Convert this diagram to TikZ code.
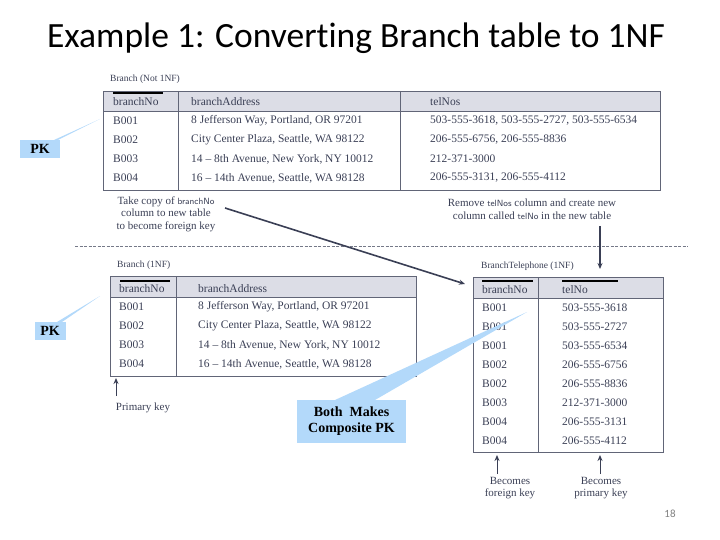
\documentclass[tikz,border=0pt]{standalone}
\usepackage{fontspec}
\setmainfont{Liberation Serif}
\newfontfamily\carl{Carlito}[Ligatures=NoCommon]
\usetikzlibrary{arrows.meta}
\definecolor{hdr}{HTML}{DCDDE6}
\definecolor{ink}{HTML}{3A3F55}
\definecolor{callout}{HTML}{B3D9FA}
\begin{document}
\begin{tikzpicture}[x=1pt,y=-1pt,
  t/.style={anchor=west,font=\fontsize{11.5}{13}\selectfont,text=ink,inner sep=0},
  lab/.style={font=\fontsize{11}{12.5}\selectfont,text=ink,align=center,inner sep=0},
  tbl/.style={draw=ink!80,line width=0.8pt},
  bar/.style={line width=2.5pt,black},
  arr/.style={draw=ink,line width=1pt,-{Stealth[length=6pt,width=5pt]}},
  co/.style={fill=callout,font=\fontsize{14}{16}\selectfont\bfseries,align=center,inner sep=0}]
\useasboundingbox (0,0) rectangle (720,540);
\node[font=\carl\fontsize{35.5}{40}\selectfont] (title) at (356,38) {Example 1: Conver\mbox{t}ing Branch table to 1NF};
% top table
\node[lab,anchor=west,font=\fontsize{9.5}{11}\selectfont] (l1) at (110,79) {Branch (Not 1NF)};
\fill[hdr] (103,91) rectangle (660,111);
\draw[tbl] (103,91) rectangle (660,190);
\draw[tbl] (103,111) -- (660,111) (178,91) -- (178,190) (400,91) -- (400,190);
\draw[bar] (113,93) -- (163,93);
\node[t] (h1) at (113,102) {branchNo};
\node[t] (h2) at (191,102) {branchAddress};
\node[t] (h3) at (430,102) {telNos};
\foreach \y/\a/\b/\c in {121/B001/{8 Jefferson Way, Portland, OR 97201}/{503-555-3618, 503-555-2727, 503-555-6534},
 140/B002/{City Center Plaza, Seattle, WA 98122}/{206-555-6756, 206-555-8836},
 159/B003/{14 -- 8th Avenue, New York, NY 10012}/{212-371-3000},
 178/B004/{16 -- 14th Avenue, Seattle, WA 98128}/{206-555-3131, 206-555-4112}}{
 \node[t] at (113,\y) {\a}; \node[t] at (191,\y) {\b}; \node[t] at (430,\y) {\c};}
\node[lab] (take) at (166,214) {Take copy of {\sffamily\fontsize{9}{10}\selectfont branchNo}\\column to new table\\to become foreign key};
\node[lab] (rem) at (532,209) {Remove {\sffamily\fontsize{9}{10}\selectfont telNos} column and create new\\column called {\sffamily\fontsize{9}{10}\selectfont telNo} in the new table};
\draw[ink!70,dash pattern=on 3pt off 1.5pt,line width=0.5pt] (75,246) -- (688,246);
% PK callouts
\fill[callout] (58,140) -- (100,119) -- (54,140) -- cycle;
\node[co,minimum width=40pt,minimum height=18pt] (pk1) at (40,149) {PK};
\fill[callout] (62,322) -- (100,296) -- (57,322) -- cycle;
\node[co,minimum width=31pt,minimum height=18pt] (pk2) at (50,331) {PK};
% bottom left table
\node[lab,anchor=west,font=\fontsize{9.5}{11}\selectfont] (l2) at (117,265) {Branch (1NF)};
\fill[hdr] (110,276) rectangle (416,297);
\draw[tbl] (110,276) rectangle (416,376);
\draw[tbl] (110,297) -- (416,297) (176,276) -- (176,376);
\draw[bar] (120,281) -- (170,281);
\node[t] at (119,289) {branchNo};
\node[t] at (198,289) {branchAddress};
\foreach \y/\a/\b in {307/B001/{8 Jefferson Way, Portland, OR 97201},326/B002/{City Center Plaza, Seattle, WA 98122},345/B003/{14 -- 8th Avenue, New York, NY 10012},364/B004/{16 -- 14th Avenue, Seattle, WA 98128}}{
 \node[t] at (119,\y) {\a}; \node[t] at (198,\y) {\b};}
\node[lab] (prim) at (143,408) {Primary key};
\coordinate (pa) at (116,378);
\draw[arr] (116,396) -- (pa);
% right table
\node[lab,anchor=west,font=\fontsize{9.5}{11}\selectfont] (l3) at (481,266) {BranchTelephone (1NF)};
\fill[hdr] (473,277) rectangle (663,298);
\draw[tbl] (473,277) rectangle (663,452);
\draw[tbl] (473,298) -- (663,298) (538,277) -- (538,452);
\draw[bar] (482,281) -- (533,281) (562,281) -- (618,281);
\node[t] (rb) at (482,290) {branchNo};
\node[t] at (562,290) {telNo};
\foreach \y/\a/\b in {308/B001/503-555-3618,327/B001/503-555-2727,346/B001/503-555-6534,365/B002/206-555-6756,384/B002/206-555-8836,403/B003/212-371-3000,422/B004/206-555-3131,441/B004/206-555-4112}{
 \node[t] at (482,\y) {\a}; \node[t] at (562,\y) {\b};}
\node[lab] (fk) at (510,488) {Becomes\\foreign key};
\node[lab] (pkk) at (601,488) {Becomes\\primary key};
\coordinate (fa) at (497,455);
\coordinate (pb) at (600,455);
\draw[arr] (497,474) -- (fa);
\draw[arr] (600,474) -- (pb);
% Both makes callout
\fill[callout] (335,400) -- (527,312) -- (375,400) -- cycle;
\node[co,minimum width=109pt,minimum height=43pt] (both) at (351.5,421.5) {Both\ \ Makes\\Composite PK};
% big arrows
\coordinate (tbt) at (465,284);
\draw[arr,line width=1.6pt] (225,208) -- (tbt);
\coordinate (rt) at (600,269);
\draw[arr,line width=1.6pt] (600,226) -- (rt);
\node[font=\carl\fontsize{11}{13}\selectfont,text=gray] (num) at (670,514) {18};
\end{tikzpicture}
\end{document}
